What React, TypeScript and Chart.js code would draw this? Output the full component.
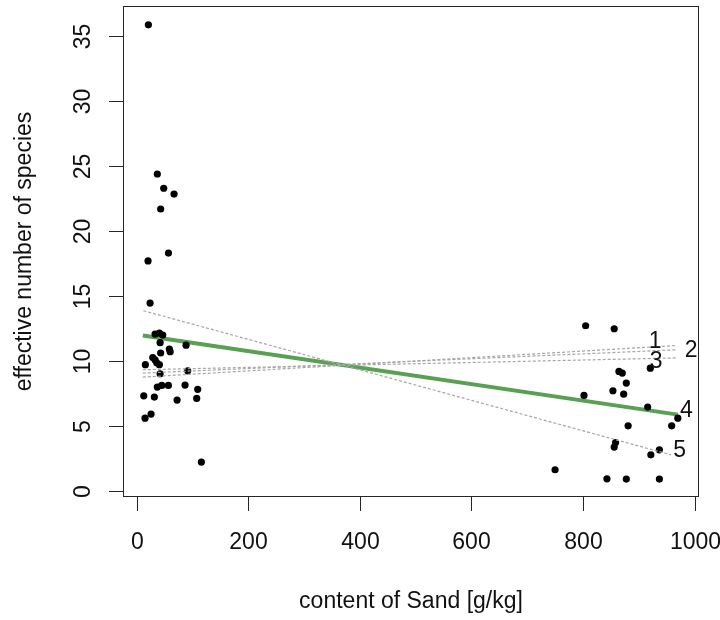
import React, { useEffect, useRef } from "react";
import { Chart, registerables } from "chart.js";

Chart.register(...registerables);

// Observed samples: content of sand [g/kg] vs effective number of species
const sandX = [
  21, 37, 48.5, 67, 43, 57, 20.4, 24, 33, 40.7, 46.7, 42, 58.6, 60, 88.5, 43,
  28.8, 33, 36, 15.6, 40.7, 42, 91.5, 37, 45, 56.8, 86.7, 109.4, 12.7, 31.7,
  72.4, 107.6, 15, 25.8, 116,
  804.8, 856, 864.5, 870.5, 877.7, 853.7, 873, 801.8, 920.7, 916, 970, 959,
  881, 858.5, 856, 937, 921.7, 750, 843, 877.7, 937,
];
const speciesY = [
  35.9, 24.4, 23.3, 22.85, 21.7, 18.3, 17.7, 14.45, 12.06, 12.13, 11.98, 11.4,
  10.9, 10.7, 11.2, 10.6, 10.25, 10.07, 9.85, 9.7, 9.7, 9.0, 9.23, 7.97, 8.1,
  8.1, 8.13, 7.8, 7.3, 7.2, 6.97, 7.1, 5.58, 5.89, 2.19,
  12.7, 12.47, 9.18, 9.05, 8.28, 7.69, 7.43, 7.33, 9.43, 6.43, 5.58, 4.99,
  4.99, 3.7, 3.35, 3.14, 2.75, 1.6, 0.9, 0.88, 0.88,
];

// Fitted lines (start / end)
const line1X = [11, 968];
const line1Y = [8.74, 11.18];
const line2X = [11, 968];
const line2Y = [9.05, 10.85];
const line3X = [11, 968];
const line3Y = [9.31, 10.22];
const line4X = [11, 970];
const line4Y = [11.95, 5.85];
const line5X = [12, 958];
const line5Y = [13.86, 2.75];

// Line labels
const lineLabels = ["1", "2", "3", "4", "5"];
const labelX = [929.6, 994.1, 931.4, 985.6, 973.2];
const labelY = [11.48, 10.78, 9.94, 6.15, 3.1];

// Axes
const xTicks = [0, 200, 400, 600, 800, 1000];
const yTicks = [0, 5, 10, 15, 20, 25, 30, 35];
const xTitle = "content of Sand [g/kg]";
const yTitle = "effective number of species";

const FONT = '23px "Liberation Sans", Arial, sans-serif';

const pairs = (xs: number[], ys: number[]) => xs.map((x, i) => ({ x, y: ys[i] }));

const rAxesPlugin = {
  id: "rAxes",
  afterDraw(chart: any) {
    const { ctx, chartArea: a, scales } = chart;
    const xs = scales.x;
    const ys = scales.y;
    ctx.save();
    ctx.strokeStyle = "#262626";
    ctx.lineWidth = 1;
    ctx.strokeRect(a.left + 0.5, a.top + 0.5, a.right - a.left - 1, a.bottom - a.top - 1);

    ctx.font = FONT;
    ctx.fillStyle = "#111";

    // x axis
    ctx.textAlign = "center";
    ctx.textBaseline = "alphabetic";
    for (const v of xTicks) {
      const px = Math.round(xs.getPixelForValue(v)) + 0.5;
      ctx.beginPath();
      ctx.moveTo(px, a.bottom);
      ctx.lineTo(px, a.bottom + 14);
      ctx.stroke();
      ctx.fillText(String(v), px, a.bottom + 52);
    }
    ctx.fillText(xTitle, (a.left + a.right) / 2, a.bottom + 111);

    // y axis
    for (const v of yTicks) {
      const py = Math.round(ys.getPixelForValue(v)) + 0.5;
      ctx.beginPath();
      ctx.moveTo(a.left - 14, py);
      ctx.lineTo(a.left, py);
      ctx.stroke();
      ctx.save();
      ctx.translate(a.left - 33, py);
      ctx.rotate(-Math.PI / 2);
      ctx.fillText(String(v), 0, 0);
      ctx.restore();
    }
    ctx.save();
    ctx.translate(a.left - 92, (a.top + a.bottom) / 2);
    ctx.rotate(-Math.PI / 2);
    ctx.fillText(yTitle, 0, 0);
    ctx.restore();

    // line labels
    ctx.textAlign = "center";
    ctx.textBaseline = "middle";
    lineLabels.forEach((t, i) => {
      ctx.fillText(t, xs.getPixelForValue(labelX[i]), ys.getPixelForValue(labelY[i]));
    });
    ctx.restore();
  },
};

export default function App() {
  const ref = useRef<HTMLCanvasElement | null>(null);

  useEffect(() => {
    document.body.style.margin = "0";
    const canvas = ref.current;
    if (!canvas) return;
    const dotted = (xs: number[], ys: number[]) => ({
      type: "line" as const,
      data: pairs(xs, ys),
      borderColor: "#a6a6a6",
      borderWidth: 1.2,
      borderDash: [3, 2],
      pointRadius: 0,
      showLine: true,
      fill: false,
      order: 0,
    });
    const chart = new Chart(canvas, {
      type: "scatter",
      data: {
        datasets: [
          dotted(line1X, line1Y),
          dotted(line2X, line2Y),
          dotted(line3X, line3Y),
          dotted(line5X, line5Y),
          {
            type: "scatter",
            data: pairs(sandX, speciesY),
            backgroundColor: "#000",
            borderWidth: 0,
            pointRadius: 3.6,
            order: 1,
          } as any,
          {
            type: "line",
            data: pairs(line4X, line4Y),
            borderColor: "#58a052",
            borderWidth: 4,
            pointRadius: 0,
            showLine: true,
            fill: false,
            order: 2,
          } as any,
        ],
      },
      options: {
        responsive: false,
        animation: false,
        devicePixelRatio: 1,
        layout: { padding: { left: 123, top: 6, right: 21, bottom: 123 } },
        plugins: { legend: { display: false }, tooltip: { enabled: false } },
        scales: {
          x: { type: "linear", min: -24.5, max: 1008, display: false },
          y: { type: "linear", min: -0.5, max: 37.35, display: false },
        },
      },
      plugins: [rAxesPlugin],
    } as any);
    return () => chart.destroy();
  }, []);

  return (
    <div style={{ width: 720, height: 620, background: "#fff" }}>
      <canvas ref={ref} width={720} height={620} style={{ display: "block" }} />
    </div>
  );
}
